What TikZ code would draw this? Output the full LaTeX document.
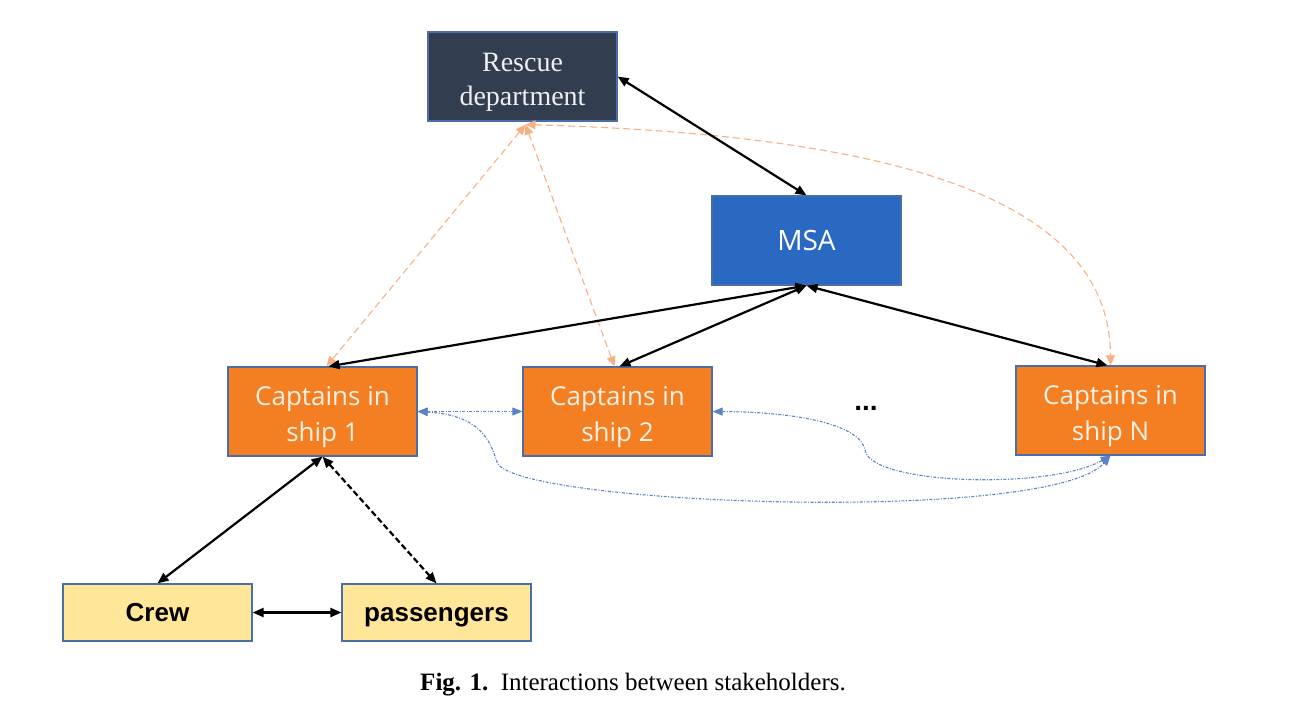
\documentclass[tikz,border=0pt]{standalone}
\usepackage{fontspec}
\setmainfont{Liberation Serif}
\newfontfamily\boxsans{Open Sans}
\newfontfamily\boldsans{Liberation Sans}
\usetikzlibrary{arrows.meta}
\newcommand\mytopstrut{\rule{0pt}{30pt}}
\definecolor{navy}{HTML}{333D50}
\definecolor{msablue}{HTML}{2A69C1}
\definecolor{capor}{HTML}{F47F22}
\definecolor{crewyel}{HTML}{FFE699}
\definecolor{edgeblue}{HTML}{4A6FA8}
\definecolor{lightor}{HTML}{F6B084}
\definecolor{dotblue}{HTML}{5B82C8}
\definecolor{textcream}{HTML}{FDF1E6}
\tikzset{
  box/.style={rectangle, draw=edgeblue, line width=1.2pt, minimum width=189pt, minimum height=89pt, align=center, inner sep=0pt},
  rescuebox/.style={box, fill=navy, text=white!92!navy, font=\fontsize{28}{34}\selectfont},
  msabox/.style={box, fill=msablue, text=white, font=\boxsans\fontsize{28}{32}\selectfont},
  capbox/.style={box, fill=capor, text=textcream, font=\boxsans\fontsize{26}{36}\selectfont},
  crewbox/.style={box, minimum height=57pt, fill=crewyel, text=black, text height=23pt, text depth=5pt, font=\boldsans\bfseries\fontsize{26}{28}\selectfont},
  blk/.style={line width=2.2pt, black, {Triangle[length=11pt,width=9pt]}-{Triangle[length=11pt,width=9pt]}},
  orng/.style={line width=1.1pt, lightor, dash pattern=on 7pt off 4pt, {Triangle[length=10pt,width=9pt]}-{Triangle[length=10pt,width=9pt]}},
  blu/.style={line width=1.1pt, dotblue, dash pattern=on 3pt off 1.5pt on 1pt off 1.5pt, {Triangle[length=10pt,width=8pt]}-{Triangle[length=10pt,width=8pt]}}
}
\begin{document}
\begin{tikzpicture}[x=1pt,y=-1pt]
\useasboundingbox (0,0) rectangle (1313,716);
\node[rescuebox] (r) at (522.5,76.5) {\mytopstrut Rescue\\department};
\node[msabox] (msa) at (806.5,240.5) {MSA};
\node[capbox] (c1) at (322.5,411.5) {\mytopstrut Captains in\\ship 1};
\node[capbox] (c2) at (617.5,411.5) {\mytopstrut Captains in\\ship 2};
\node[capbox] (cn) at (1110.5,410.5) {\mytopstrut Captains in\\ship N};
\node[crewbox] (crew) at (157.5,612.5) {Crew};
\node[crewbox] (pass) at (436.5,612.5) {passengers};
\node[font=\boldsans\bfseries\fontsize{28}{30}\selectfont] (dots) at (866,408) {...};
\node[font=\fontsize{25}{28}\selectfont] (cap) at (633,685) {\textbf{Fig. 1.}\ \ Interactions between stakeholders.};
\coordinate (rs) at ([xshift=3pt,yshift=-3pt]r.south);
% orange dashed
\draw[orng] (rs) -- ([xshift=4pt]c1.north);
\draw[orng] (rs) -- ([xshift=-3pt]c2.north);
\draw[orng] (rs) .. controls (900,135) and (1110,200) .. (cn.north);
% black
\draw[blk] (r.east) -- (msa.north);
\draw[blk] (msa.south) -- ([xshift=6pt]c1.north);
\draw[blk] (msa.south) -- ([xshift=2pt]c2.north);
\draw[blk] (msa.south) -- ([xshift=-3pt]cn.north);
\draw[blk] (c1.south) -- (crew.north);
\draw[blk, dash pattern=on 6pt off 3pt] (c1.south) -- (pass.north);
\draw[blk] (crew.east) -- (pass.west);
% blue dotted
\draw[blu] (c1.east) -- (c2.west);
\draw[blu] (c2.east) .. controls (800,412) and (860,425) .. (865,450) .. controls (870,485) and (1050,490) .. (cn.south);
\draw[blu] (c1.east) .. controls (480,415) and (490,440) .. (497,462) .. controls (510,505) and (1050,525) .. (cn.south);
\end{tikzpicture}
\end{document}
